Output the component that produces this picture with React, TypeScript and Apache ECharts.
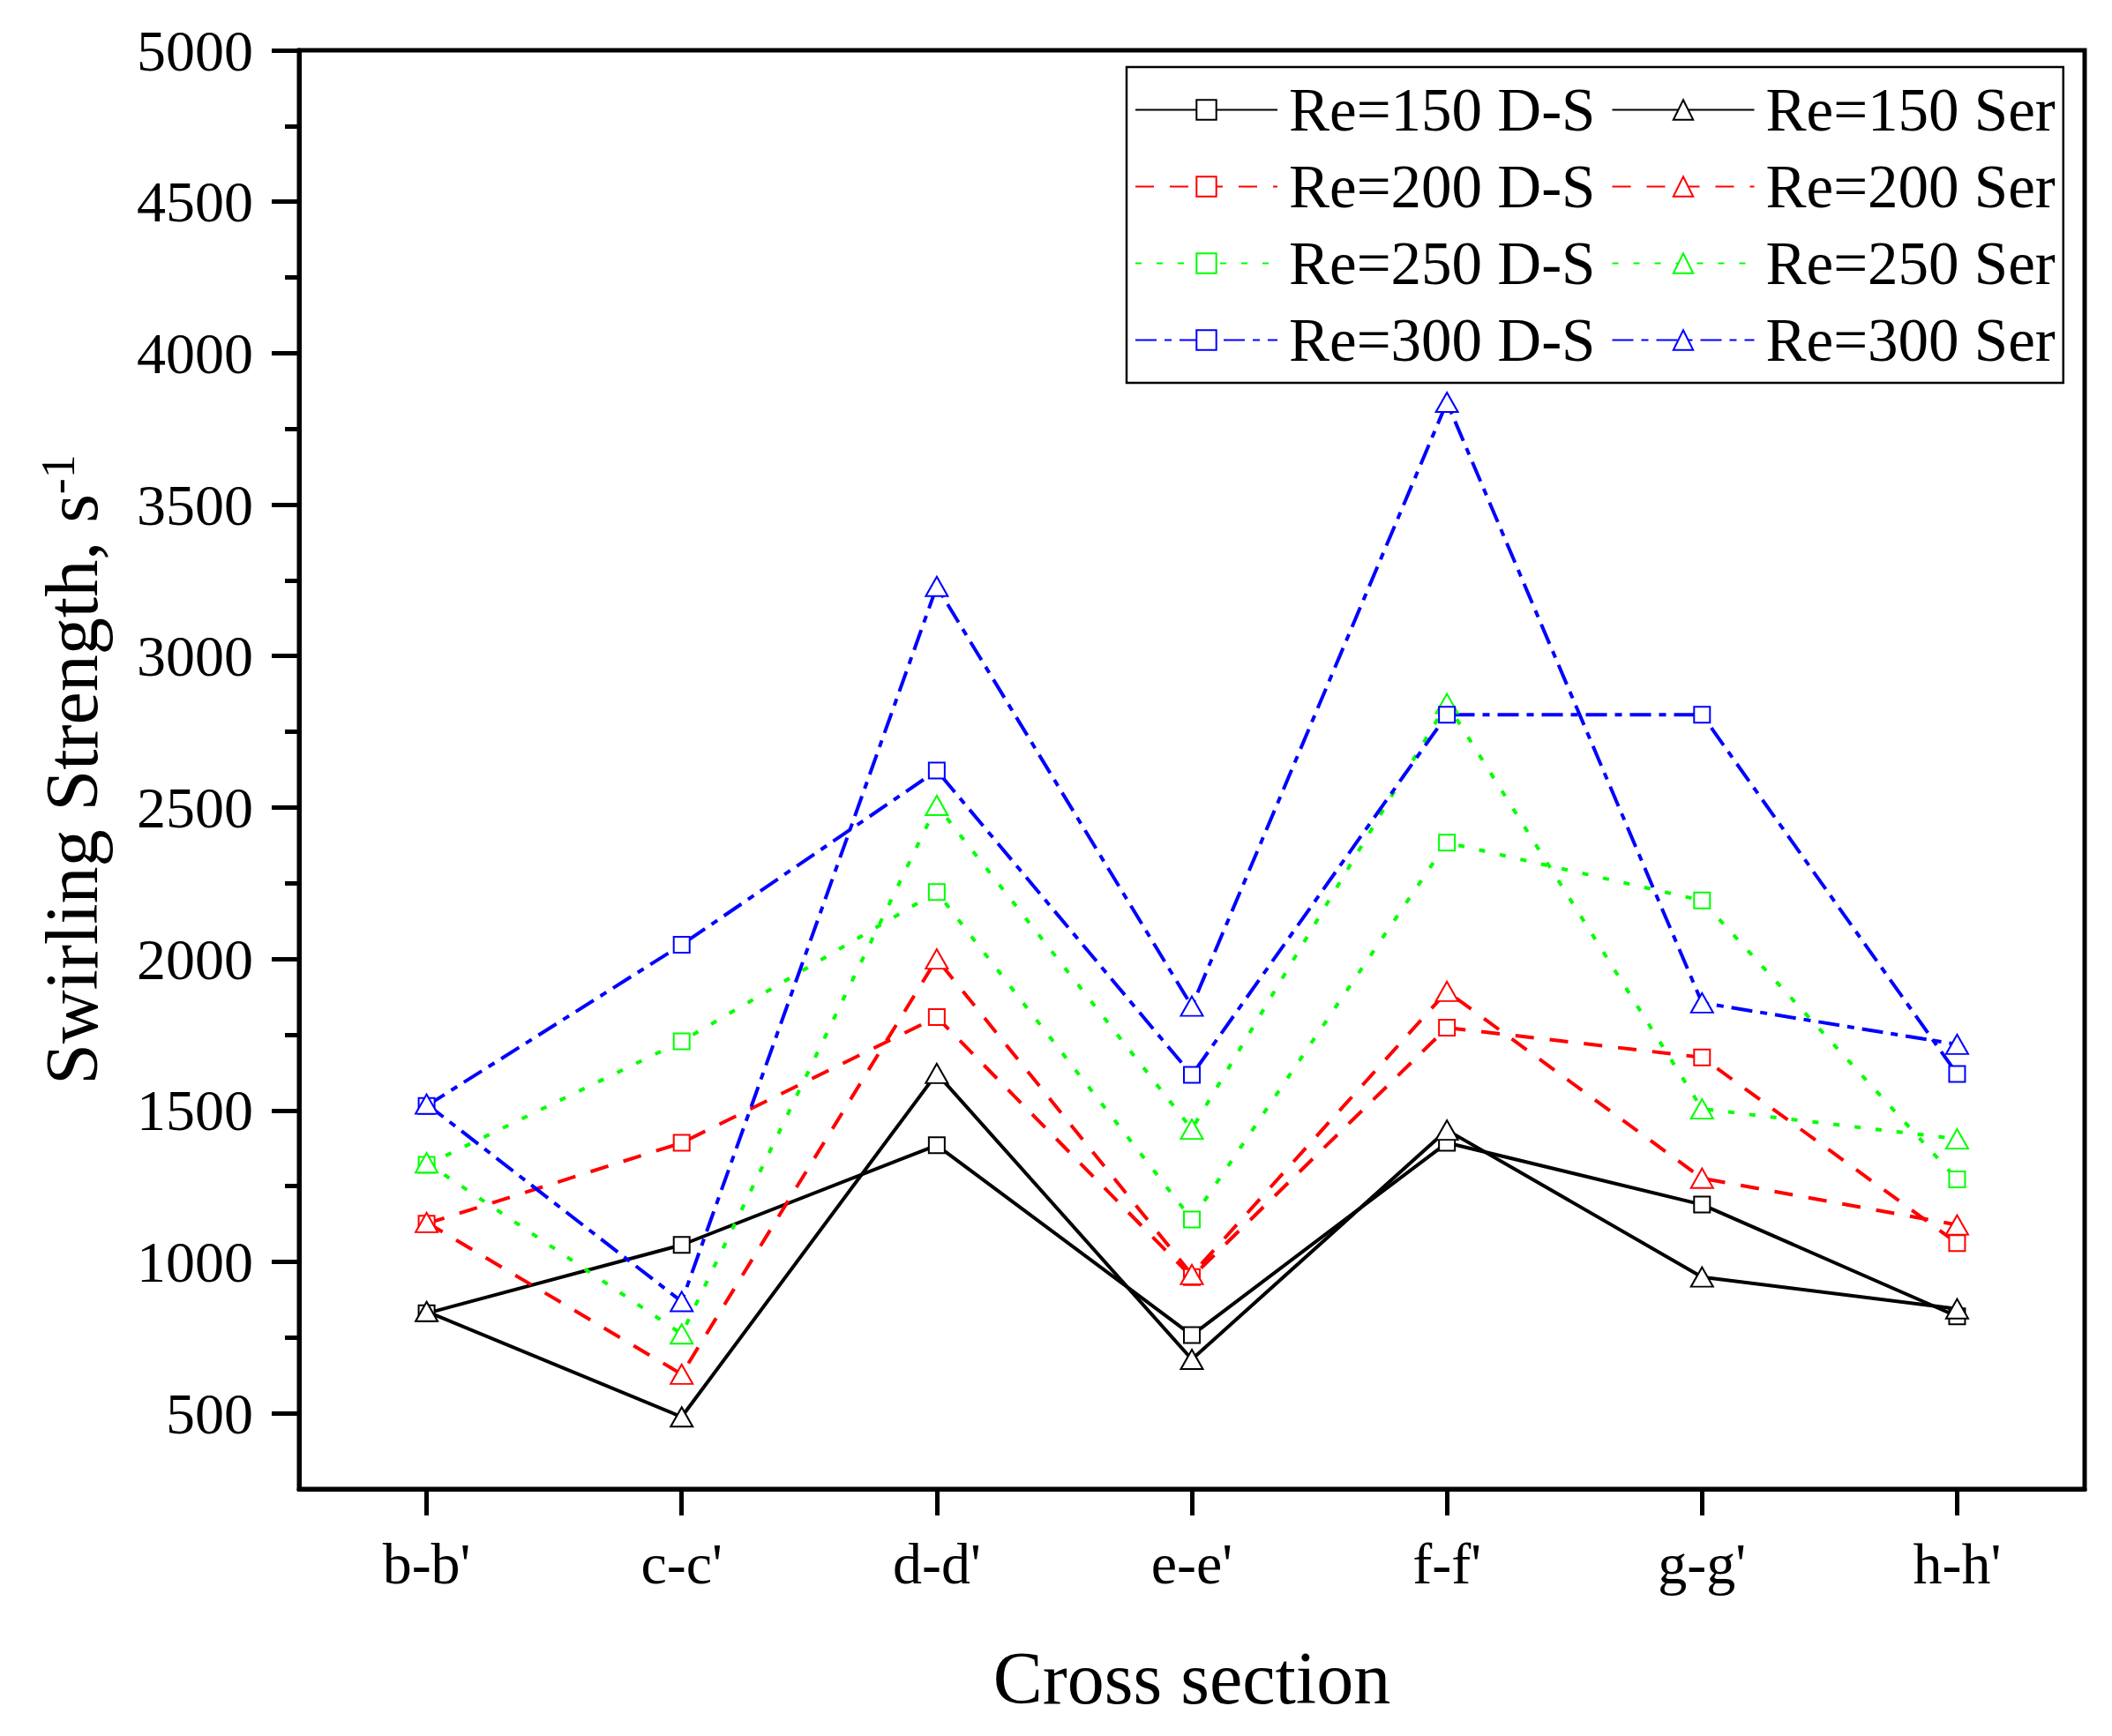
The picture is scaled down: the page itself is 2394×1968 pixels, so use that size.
import React, { useEffect, useRef } from "react";
import * as echarts from "echarts";

const categories = ["b-b'", "c-c'", "d-d'", "e-e'", "f-f'", "g-g'", "h-h'"];

const re150DS = [830, 1056, 1385, 758, 1393, 1189, 820];
const re150Ser = [836, 488, 1622, 678, 1435, 950, 845];
const re200DS = [1126, 1393, 1808, 950, 1773, 1675, 1062];
const re200Ser = [1130, 629, 2000, 958, 1893, 1276, 1122];
const re250DS = [1320, 1728, 2221, 1140, 2384, 2193, 1272];
const re250Ser = [1327, 762, 2507, 1438, 2843, 1505, 1406];
const re300DS = [1515, 2047, 2622, 1617, 2806, 2806, 1620];
const re300Ser = [1521, 869, 3230, 1844, 3838, 1855, 1718];

const yMajorTicks = [500, 1000, 1500, 2000, 2500, 3000, 3500, 4000, 4500, 5000];
const yMinorTicks = [750, 1250, 1750, 2250, 2750, 3250, 3750, 4250, 4750];

const FONT = "'Liberation Serif', 'Times New Roman', Times, serif";

const SOLID: any = "solid";
const DASH = [21, 18];
const DOT = [7, 17];
const DASHDOT = [24, 9, 8, 9];

function mk(name: string, data: number[], color: string, dash: any, square: boolean) {
  return {
    name,
    type: "line",
    data,
    symbol: square ? "emptyRect" : "emptyTriangle",
    symbolSize: square ? 18 : [25, 22],
    showSymbol: true,
    lineStyle: { color, width: 4, type: dash, cap: "butt" },
    itemStyle: { color, borderColor: color, borderWidth: 2.5 },
    emphasis: { disabled: true },
  };
}

export default function App() {
  const ref = useRef<HTMLDivElement>(null);

  useEffect(() => {
    document.body.style.margin = "0";
    const chart = echarts.init(ref.current as HTMLDivElement, null, { renderer: "svg" });
    const axisLine = { show: true, lineStyle: { color: "#000", width: 5 } };
    const option: any = {
      animation: false,
      backgroundColor: "#fff",
      grid: {
        left: 339,
        right: 31,
        top: 57,
        bottom: 280,
        show: true,
        borderColor: "#000",
        borderWidth: 5,
        containLabel: false,
        outerBoundsMode: "none",
      },
      legend: {
        left: 1277,
        top: 76,
        width: 1070,
        orient: "horizontal",
        padding: [14, 9],
        itemGap: 18,
        itemWidth: 161,
        itemHeight: 28,
        borderColor: "#000",
        borderWidth: 2.5,
        backgroundColor: "#fff",
        textStyle: { fontSize: 69, fontFamily: FONT, color: "#000", padding: [0, 0, 0, 8] },
        data: [
          "Re=150 D-S", "Re=150 Ser",
          "Re=200 D-S", "Re=200 Ser",
          "Re=250 D-S", "Re=250 Ser",
          "Re=300 D-S", "Re=300 Ser",
        ],
      },
      xAxis: {
        type: "category",
        data: categories,
        boundaryGap: true,
        name: "Cross section",
        nameLocation: "middle",
        nameGap: 172,
        nameTextStyle: { fontSize: 84, fontFamily: FONT, color: "#000" },
        axisLine,
        axisTick: { show: true, alignWithLabel: true, length: 30, lineStyle: { color: "#000", width: 5 } },
        axisLabel: { fontSize: 66, fontFamily: FONT, color: "#000", margin: 51 },
        splitLine: { show: false },
      },
      yAxis: [
        {
          type: "value",
          min: 250,
          max: 5000,
          position: "left",
          name: "{a|Swirling Strength, s}{b|-1}",
          nameLocation: "middle",
          nameGap: 216,
          nameTextStyle: {
            fontFamily: FONT,
            color: "#000",
            rich: {
              a: { fontSize: 84, fontFamily: FONT, color: "#000", lineHeight: 84 },
              b: { fontSize: 54, fontFamily: FONT, color: "#000", lineHeight: 84, verticalAlign: "top" },
            },
          },
          axisLine,
          axisTick: { show: true, customValues: yMajorTicks, length: 31, lineStyle: { color: "#000", width: 5 } },
          axisLabel: {
            customValues: yMajorTicks,
            fontSize: 66,
            fontFamily: FONT,
            color: "#000",
            margin: 52,
            formatter: (v: number) => String(v),
          },
          splitLine: { show: false },
        },
        {
          type: "value",
          min: 250,
          max: 5000,
          position: "left",
          axisLine: { show: false },
          axisTick: { show: true, customValues: yMinorTicks, length: 16, lineStyle: { color: "#000", width: 5 } },
          axisLabel: { show: false },
          splitLine: { show: false },
        },
      ],
      series: [
        mk("Re=150 D-S", re150DS, "#000000", SOLID, true),
        mk("Re=150 Ser", re150Ser, "#000000", SOLID, false),
        mk("Re=200 D-S", re200DS, "#ff0000", DASH, true),
        mk("Re=200 Ser", re200Ser, "#ff0000", DASH, false),
        mk("Re=250 D-S", re250DS, "#00ff00", DOT, true),
        mk("Re=250 Ser", re250Ser, "#00ff00", DOT, false),
        mk("Re=300 D-S", re300DS, "#0000ff", DASHDOT, true),
        mk("Re=300 Ser", re300Ser, "#0000ff", DASHDOT, false),
      ],
    };
    chart.setOption(option);
    return () => {
      chart.dispose();
    };
  }, []);

  return <div ref={ref} style={{ width: 2394, height: 1968 }} />;
}
